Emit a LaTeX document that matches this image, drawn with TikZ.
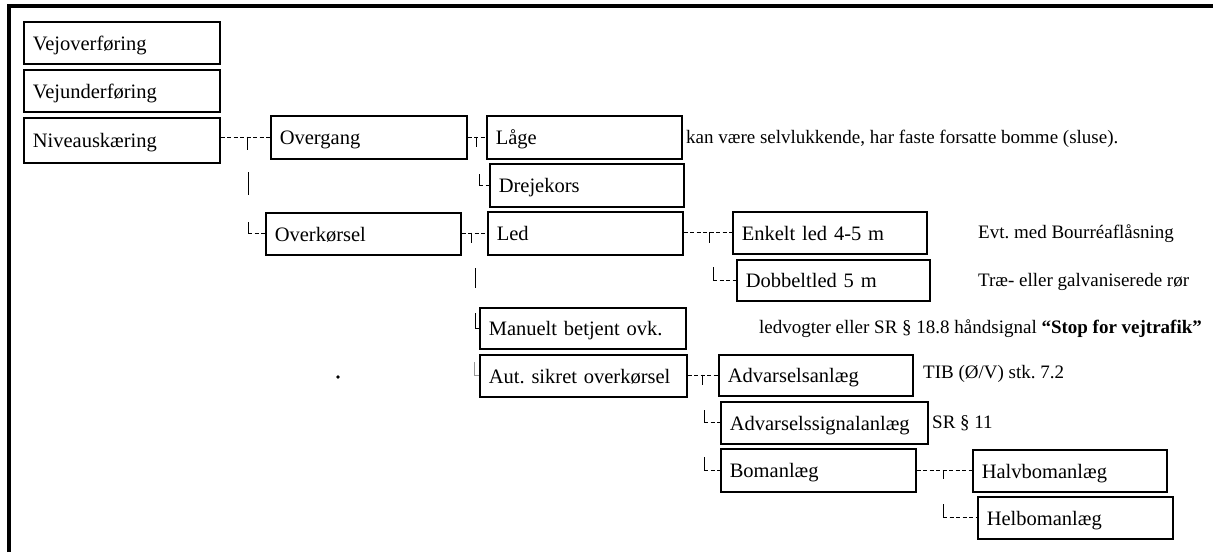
\documentclass[tikz,border=0pt]{standalone}
\usepackage{fontspec}
\setmainfont{Liberation Serif}
\frenchspacing
\begin{document}
\begin{tikzpicture}[x=1pt,y=-1pt,
  box/.style={draw, line width=1.6pt, anchor=north west, inner xsep=9pt, inner ysep=0pt,
    align=left, text height=15pt, text depth=0pt, font=\fontsize{20.5}{24}\selectfont},
  side/.style={anchor=west, inner sep=0pt, text height=13pt, text depth=0pt,
    font=\fontsize{19}{22}\selectfont},
  dconn/.style={line width=0.8pt, dash pattern=on 4pt off 2.5pt},
  sconn/.style={line width=0.8pt},
  gconn/.style={line width=0.8pt, draw=black!40},
  borderline/.style={line width=3.6pt, line join=miter}
]
\useasboundingbox (0,0) rectangle (1213,552);
\draw[borderline] (9,552) -- (9,6) -- (1213,6);

% boxes
\node[box, minimum width=196pt, minimum height=42pt, text width=178pt] (vejo) at (23,21) {Vejoverføring};
\node[box, minimum width=196pt, minimum height=42pt, text width=178pt] (veju) at (23,69) {Vejunderføring};
\node[box, minimum width=196pt, minimum height=45pt, text width=178pt] (niveau) at (23,117) {Niveauskæring};
\node[box, minimum width=196pt, minimum height=43pt, text width=178pt] (overgang) at (270,115) {Overgang};
\node[box, minimum width=195pt, minimum height=42pt, text width=177pt] (overk) at (265,212) {Overkørsel};
\node[box, minimum width=195pt, minimum height=43pt, text width=177pt] (laage) at (486,115) {Låge};
\node[box, minimum width=194pt, minimum height=43pt, text width=176pt] (drej) at (489,163) {Drejekors};
\node[box, minimum width=195pt, minimum height=43pt, text width=177pt] (led) at (487,211) {Led};
\node[box, minimum width=194pt, minimum height=42pt, text width=176pt] (enk) at (732,211) {Enkelt led 4-5 m};
\node[box, minimum width=193pt, minimum height=41pt, text width=175pt] (dob) at (736,259) {Dobbeltled 5 m};
\node[box, minimum width=206pt, minimum height=41pt, text width=188pt] (man) at (479,307) {Manuelt betjent ovk.};
\node[box, minimum width=207pt, minimum height=42pt, text width=189pt] (aut) at (479,354) {Aut. sikret overkørsel};
\node[box, minimum width=194pt, minimum height=41pt, text width=176pt] (adv) at (718,354) {Advarselsanlæg};
\node[box, minimum width=207pt, minimum height=42pt, text width=189pt] (advs) at (720,401) {Advarselssignalanlæg};
\node[box, minimum width=195pt, minimum height=43pt, text width=177pt] (bom) at (720,448) {Bomanlæg};
\node[box, minimum width=194pt, minimum height=42pt, text width=176pt] (halv) at (972,449) {Halvbomanlæg};
\node[box, minimum width=195pt, minimum height=42pt, text width=177pt] (hel) at (977,496) {Helbomanlæg};

% side texts
\node[side] (kan) at (686,137) {kan være selvlukkende, har faste forsatte bomme (sluse).};
\node[side] (evt) at (978,232) {Evt. med Bourréaflåsning};
\node[side] (trae) at (978,280) {Træ- eller galvaniserede rør};
\node[side] (ledv) at (759,327) {ledvogter eller SR § 18.8 håndsignal \textbf{“Stop for vejtrafik”}};
\node[side] (tib) at (923,372) {TIB (Ø/V) stk. 7.2};
\node[side] (sr) at (932,422) {SR § 11};

% group A
\coordinate (tA1) at (247,136.5); \coordinate (tA2) at (247,150);
\coordinate (mA1) at (248,172); \coordinate (mA2) at (248,195);
\coordinate (lA) at (248,222);
\draw[dconn] (niveau.east |- overgang.west) -- (overgang.west);
\draw[sconn] (tA1) -- (tA2);
\draw[sconn] (mA1) -- (mA2);
\draw[sconn] (lA) -- (lA |- overk.west);
\draw[dconn] (lA |- overk.west) -- (overk.west);

% group B
\coordinate (tB1) at (476,136.5); \coordinate (tB2) at (476,147);
\coordinate (lB) at (479,174);
\draw[dconn] (overgang.east |- laage.west) -- (laage.west);
\draw[sconn] (tB1) -- (tB2);
\draw[sconn] (lB) -- (lB |- drej.west);
\draw[dconn] (lB |- drej.west) -- (drej.west);

% group C
\coordinate (tC1) at (471,232.5); \coordinate (tC2) at (471,243);
\coordinate (mC1) at (475,268); \coordinate (mC2) at (475,288);
\coordinate (lC1) at (475,313);
\coordinate (lC2) at (474,362);
\draw[dconn] (overk.east |- led.west) -- (led.west);
\draw[sconn] (tC1) -- (tC2);
\draw[sconn] (mC1) -- (mC2);
\draw[sconn] (lC1) |- (man.west);
\draw[gconn] (lC2) |- (aut.west);

% group D
\coordinate (tD1) at (709,232); \coordinate (tD2) at (709,243);
\coordinate (lD) at (713,267);
\draw[dconn] (led.east |- enk.west) -- (enk.west);
\draw[sconn] (tD1) -- (tD2);
\draw[sconn] (lD) -- (lD |- dob.west);
\draw[dconn] (lD |- dob.west) -- (dob.west);

% group E
\coordinate (tE1) at (702,374.5); \coordinate (tE2) at (702,385);
\coordinate (lE1) at (704,410);
\coordinate (lE2) at (704,457);
\draw[dconn] (aut.east |- adv.west) -- (adv.west);
\draw[sconn] (tE1) -- (tE2);
\draw[sconn] (lE1) -- (lE1 |- advs.west);
\draw[dconn] (lE1 |- advs.west) -- (advs.west);
\draw[sconn] (lE2) -- (lE2 |- bom.west);
\draw[dconn] (lE2 |- bom.west) -- (bom.west);

% group F
\coordinate (tF1) at (943,470); \coordinate (tF2) at (943,479);
\coordinate (lF) at (943,504);
\draw[dconn] (bom.east |- halv.west) -- (halv.west);
\draw[sconn] (tF1) -- (tF2);
\draw[sconn] (lF) -- (lF |- hel.west);
\draw[dconn] (lF |- hel.west) -- (hel.west);

% speck
\fill (338,377) circle (1.8pt);
\end{tikzpicture}
\end{document}
